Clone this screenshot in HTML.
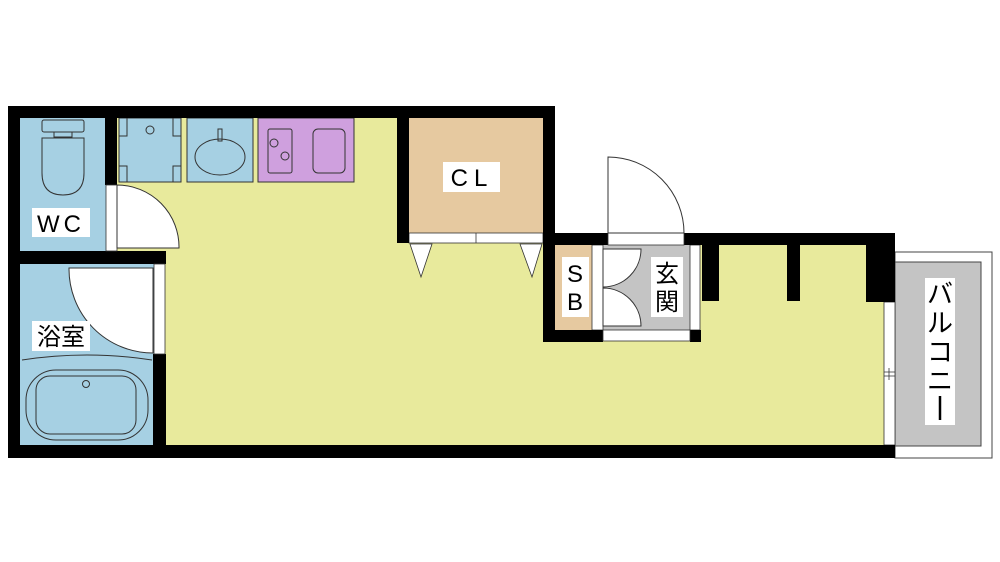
<!DOCTYPE html>
<html><head><meta charset="utf-8"><style>
html,body{margin:0;padding:0;background:#fff;}
svg{display:block;}
text{font-family:"Liberation Sans","Noto Sans CJK JP",sans-serif;fill:#000;}
</style></head><body>
<svg width="1000" height="562" viewBox="0 0 1000 562" xmlns="http://www.w3.org/2000/svg">
<rect width="1000" height="562" fill="#fff"/>
<rect x="117" y="118" width="438" height="327" fill="#e8ea9c"/>
<rect x="543" y="245" width="341" height="200" fill="#e8ea9c"/>
<rect x="20" y="118" width="86" height="133" fill="#a6d0e3"/>
<rect x="20" y="264" width="134" height="181" fill="#a6d0e3"/>
<rect x="119" y="118" width="62" height="64" fill="#a6d0e3" stroke="#333" stroke-width="1"/>
<rect x="187" y="118" width="66" height="64" fill="#a6d0e3" stroke="#333" stroke-width="1"/>
<rect x="258" y="118" width="96" height="64" fill="#cfa0de" stroke="#333" stroke-width="1"/>
<g fill="none" stroke="#333" stroke-width="1">
<path d="M127 118v18h-8M173 118v18h8M127 182v-16h-8M173 182v-16h8"/>
<circle cx="150" cy="130" r="4"/>
<ellipse cx="220" cy="157" rx="25" ry="18"/>
<rect x="218" y="129" width="4" height="12"/>
<rect x="268" y="129" width="24" height="44" rx="2"/>
<circle cx="274" cy="143" r="4"/><circle cx="285" cy="156" r="4"/>
<rect x="313" y="129" width="32" height="44" rx="5"/>
<rect x="42" y="120" width="42" height="12" rx="2"/>
<rect x="54" y="132" width="18" height="5"/>
<path d="M42 138h42v35q0 22-21 22q-21 0-21-22z"/>
<path d="M22 360q65-10 130 0"/>
<rect x="26" y="370" width="122" height="70" rx="30"/>
<rect x="36" y="376" width="100" height="58" rx="14"/>
<circle cx="86" cy="384" r="3.5"/>
</g>
<rect x="409" y="118" width="134" height="115" fill="#e6c9a0"/>
<rect x="409" y="233" width="134" height="10" fill="#fff" stroke="#333" stroke-width="0.8"/>
<line x1="476" y1="233" x2="476" y2="243" stroke="#333" stroke-width="0.8"/>
<path d="M410 244L432 244L421 277ZM520 244L542 244L532 277Z" fill="#fff" stroke="#333" stroke-width="0.8"/>
<rect x="555" y="245" width="37" height="85" fill="#e6c9a0"/>
<rect x="603" y="245" width="87" height="85" fill="#c4c4c4"/>
<rect x="592" y="245" width="11" height="85" fill="#fff" stroke="#333" stroke-width="0.8"/>
<rect x="690" y="245" width="10" height="85" fill="#fff" stroke="#333" stroke-width="0.8"/>
<path d="M603 249h38a38 38 0 0 1 -38 38zM603 326h38a38 38 0 0 0 -38 -38z" fill="#fff" stroke="#333" stroke-width="1"/>
<rect x="895" y="252" width="97" height="206" fill="#fff" stroke="#444" stroke-width="1"/>
<rect x="895" y="262" width="86" height="184" fill="#c4c4c4" stroke="#444" stroke-width="1"/>
<rect x="884" y="302" width="11" height="143" fill="#fff" stroke="#333" stroke-width="0.8"/>
<path d="M884 372h11M884 376h11M889 368v12" stroke="#333" stroke-width="0.8"/>
<g fill="#000">
<rect x="8" y="106" width="547" height="12"/>
<rect x="8" y="106" width="12" height="352"/>
<rect x="8" y="445" width="887" height="13"/>
<rect x="105" y="106" width="12" height="79"/>
<rect x="20" y="251" width="146" height="13"/>
<rect x="153" y="354" width="13" height="91"/>
<rect x="397" y="106" width="12" height="137"/>
<rect x="543" y="106" width="12" height="139"/>
<rect x="543" y="233" width="65" height="12"/>
<rect x="543" y="233" width="12" height="109"/>
<rect x="543" y="330" width="60" height="12"/>
<rect x="690" y="330" width="11" height="12"/>
<rect x="684" y="233" width="211" height="12"/>
<rect x="702" y="233" width="17" height="68"/>
<rect x="787" y="233" width="13" height="68"/>
<rect x="866" y="233" width="29" height="69"/>
</g>
<rect x="603" y="330" width="87" height="11" fill="#fff" stroke="#333" stroke-width="0.8"/>
<rect x="608" y="233" width="76" height="12" fill="#fff" stroke="#333" stroke-width="0.8"/>
<rect x="106" y="185" width="11" height="66" fill="#fff" stroke="#333" stroke-width="0.8"/>
<path d="M117 185a62 62 0 0 1 62 63h-62z" fill="#fff" stroke="#333" stroke-width="1"/>
<rect x="154" y="264" width="11" height="90" fill="#fff" stroke="#333" stroke-width="0.8"/>
<path d="M153 268h-84a84 84 0 0 0 84 85z" fill="#fff" stroke="#333" stroke-width="1"/>
<path d="M608 233v-76a76 76 0 0 1 76 76z" fill="#fff" stroke="#333" stroke-width="1"/>
<rect x="32" y="208" width="58" height="29" fill="#fff"/>
<text x="61" y="232" font-size="24" text-anchor="middle" letter-spacing="4">WC</text>
<rect x="32" y="321" width="58" height="30" fill="#fff"/>
<text x="61" y="345" font-size="24" text-anchor="middle">浴室</text>
<rect x="443" y="162" width="57" height="30" fill="#fff"/>
<text x="472" y="186" font-size="24" text-anchor="middle" letter-spacing="6">CL</text>
<rect x="562" y="257" width="27" height="60" fill="#fff"/>
<text x="575" y="282" font-size="24" text-anchor="middle">S</text>
<text x="575" y="310" font-size="24" text-anchor="middle">B</text>
<rect x="651" y="257" width="32" height="60" fill="#fff"/>
<text x="667" y="282" font-size="24" text-anchor="middle">玄</text>
<text x="667" y="310" font-size="24" text-anchor="middle">関</text>
<rect x="925" y="278" width="30" height="147" fill="#fff"/>
<text x="940" y="303" font-size="26" text-anchor="middle">バ</text>
<text x="940" y="332" font-size="26" text-anchor="middle">ル</text>
<text x="940" y="361" font-size="26" text-anchor="middle">コ</text>
<text x="940" y="390" font-size="26" text-anchor="middle">ニ</text>
<line x1="940" y1="396" x2="940" y2="420" stroke="#000" stroke-width="2.5"/>
</svg>
</body></html>
